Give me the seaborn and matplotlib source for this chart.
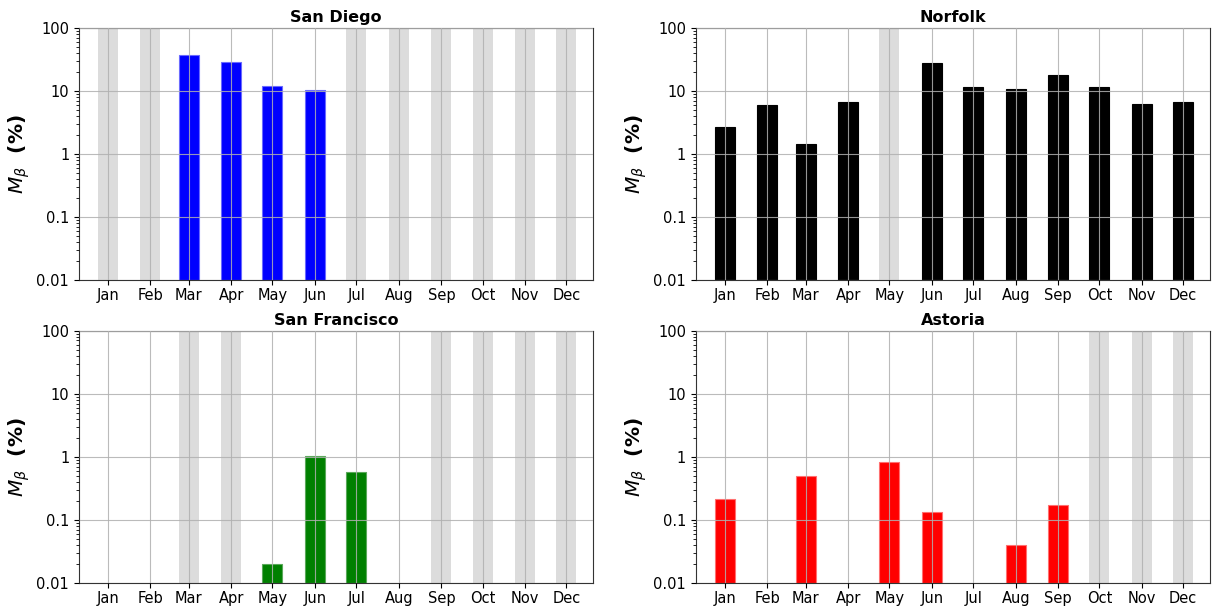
import numpy as np
import pandas as pd
import matplotlib
matplotlib.use("Agg")
import matplotlib.pyplot as plt
import seaborn as sns

# Month labels and their mid-month day-of-year positions
months = ["Jan", "Feb", "Mar", "Apr", "May", "Jun",
          "Jul", "Aug", "Sep", "Oct", "Nov", "Dec"]
month_days = [15, 46, 74, 105, 135, 166, 196, 227, 258, 288, 319, 349]

# Monthly M_beta values (%); None = no detection, months in *_nodata had no sampling
san_diego = [None, None, 37.2, 29.0, 12.1, 10.3, None, None, None, None, None, None]
san_diego_nodata = ["Jan", "Feb", "Jul", "Aug", "Sep", "Oct", "Nov", "Dec"]

norfolk = [2.70, 6.1, 1.47, 6.8, None, 28.1, 11.5, 10.9, 17.9, 11.5, 6.27, 6.8]
norfolk_nodata = ["May"]

san_francisco = [None, None, None, None, 0.020, 1.05, 0.586, None, None, None, None, None]
san_francisco_nodata = ["Mar", "Apr", "Sep", "Oct", "Nov", "Dec"]

astoria = [0.211, None, 0.50, None, 0.824, 0.133, None, 0.0405, 0.174, None, None, None]
astoria_nodata = ["Oct", "Nov", "Dec"]

stations = [
    ("San Diego", san_diego, san_diego_nodata, "#0000ff", "#6a6aff"),
    ("Norfolk", norfolk, norfolk_nodata, "#000000", "#000000"),
    ("San Francisco", san_francisco, san_francisco_nodata, "#008000", "#5aa85a"),
    ("Astoria", astoria, astoria_nodata, "#ff0000", "#ff7070"),
]

y_top = 100
y_bottom = 0.01
y_ticks = [0.01, 0.1, 1, 10, 100]
y_ticklabels = ["0.01", "0.1", "1", "10", "100"]

fig, axes = plt.subplots(2, 2, figsize=(12.14, 6.07), dpi=100)
fig.subplots_adjust(left=0.065, right=0.9967, top=0.954, bottom=0.0395,
                    wspace=0.2, hspace=0.2)

bar_width = 0.52  # relative to the shortest month spacing

for ax, (name, values, nodata, color, edge) in zip(axes.flat, stations):
    ax.set_yscale("log")

    # shaded months without sampling: full-height light grey bars
    shade = [y_top if m in nodata else np.nan for m in months]
    df_shade = pd.DataFrame({"day": month_days, "value": shade})
    sns.barplot(data=df_shade, x="day", y="value", native_scale=True,
                width=bar_width, color="#dcdcdc", saturation=1,
                errorbar=None, linewidth=0, ax=ax)

    vals = [np.nan if v is None else v for v in values]
    df = pd.DataFrame({"day": month_days, "value": vals})
    sns.barplot(data=df, x="day", y="value", native_scale=True,
                width=bar_width, color=color, saturation=1,
                errorbar=None, edgecolor=edge, linewidth=0.8, ax=ax)

    ax.set_ylim(y_bottom, y_top)
    ax.set_yticks(y_ticks)
    ax.set_yticklabels(y_ticklabels)
    ax.set_xticks(month_days)
    ax.set_xticklabels(months)
    ax.set_xlim(-6, 368.5)
    ax.tick_params(axis="both", labelsize=10.5)
    ax.tick_params(axis="x", pad=2)
    ax.grid(True, which="major", color="#b0b0b0", linewidth=0.8, alpha=0.85)
    ax.set_axisbelow(False)
    ax.set_xlabel("")
    ax.set_ylabel(r"$M_\beta$  (%)", fontsize=14.5, fontweight="bold", labelpad=3)
    ax.set_title(name, fontsize=11.5, fontweight="bold", pad=4)
    for s in ax.spines.values():
        s.set_color("#333333")

fig.savefig("out.png", dpi=100)
